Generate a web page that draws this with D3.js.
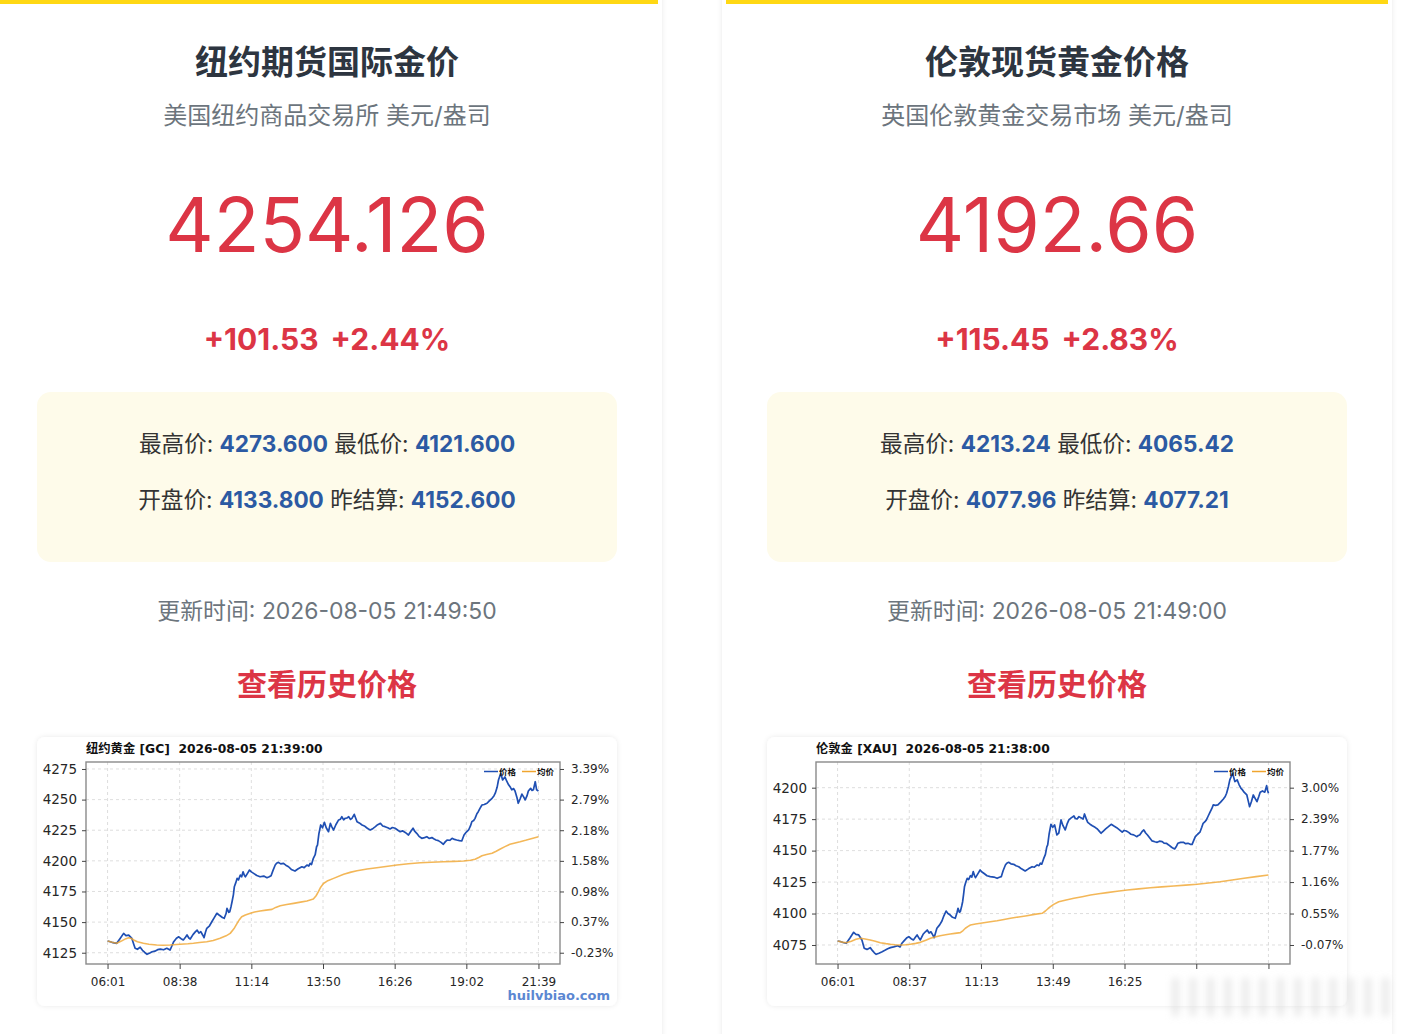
<!DOCTYPE html>
<html>
<head>
<meta charset="utf-8">
<script src="https://cdn.jsdelivr.net/npm/d3@7"></script>
<style>
html, body { margin: 0; padding: 0; background: #ffffff; }
svg { display: block; }
</style>
</head>
<body>
<script>
// ---------- card texts ----------
var cardTitles    = ["纽约期货国际金价", "伦敦现货黄金价格"];
var cardSubtitles = ["美国纽约商品交易所 美元/盎司", "英国伦敦黄金交易市场 美元/盎司"];
var lastPrices    = ["4254.126", "4192.66"];
var changeValues  = ["+101.53", "+115.45"];
var changePcts    = ["+2.44%", "+2.83%"];
var highPrices    = ["4273.600", "4213.24"];
var lowPrices     = ["4121.600", "4065.42"];
var openPrices    = ["4133.800", "4077.96"];
var settlePrices  = ["4152.600", "4077.21"];
var updateTimes   = ["2026-08-05 21:49:50", "2026-08-05 21:49:00"];
var chartTitles   = ["纽约黄金 [GC]  2026-08-05 21:39:00", "伦敦金 [XAU]  2026-08-05 21:38:00"];

// ---------- chart axes ----------
var gcTimeLabels  = ["06:01", "08:38", "11:14", "13:50", "16:26", "19:02", "21:39"];
var xauTimeLabels = ["06:01", "08:37", "11:13", "13:49", "16:25", "19:01", "21:38"];
var xauTimeShown  = [true, true, true, true, true, false, false];   // last two covered in the picture
var gcPriceTicks  = [4125, 4150, 4175, 4200, 4225, 4250, 4275];
var gcPctLabels   = ["-0.23%", "0.37%", "0.98%", "1.58%", "2.18%", "2.79%", "3.39%"];
var xauPriceTicks = [4075, 4100, 4125, 4150, 4175, 4200];
var xauPctLabels  = ["-0.07%", "0.55%", "1.16%", "1.77%", "2.39%", "3.00%"];

// ---------- GC series (minutes after 06:01) ----------
var gcTimes = [0,6,12,20,27,35,40,46,53,57,60,65,71,76,81,86,92,97,103,109,115,122,129,136,140,144,150,155,160,165,170,173,177,180,186,191,195,199,203,207,210,213,216,222,227,232,238,242,245,250,254,258,260,264,266,269,271,274,276,279,282,285,289,292,295,298,300,305,309,313,318,325,332,340,347,352,356,360,365,368,372,377,383,388,394,400,408,415,423,428,434,438,441,444,448,452,455,457,460,464,468,472,476,481,485,488,492,497,503,507,510,514,517,521,525,529,532,537,540,543,548,554,559,564,568,572,578,583,588,594,599,604,610,615,620,626,632,637,642,648,652,655,660,665,669,673,678,684,690,695,700,706,710,715,720,726,731,735,739,745,750,755,760,766,771,776,781,786,790,793,797,800,804,807,811,815,820,826,831,837,841,844,848,851,856,860,865,869,873,877,880,884,887,891,894,898,902,906,909,913,916,921,924,927,931,934,938];
var gcPrices = [4134.6,4134.0,4133.2,4132.7,4136.5,4140.8,4139.0,4139.4,4136.7,4132.0,4128.6,4127.8,4129.5,4127.0,4125.2,4123.7,4124.8,4125.8,4126.3,4127.5,4128.0,4127.4,4128.6,4127.2,4130.5,4134.0,4136.8,4138.0,4136.5,4135.4,4137.8,4139.5,4137.0,4136.2,4139.8,4142.0,4143.5,4141.0,4142.2,4139.5,4137.3,4141.5,4144.9,4147.0,4150.3,4153.5,4157.2,4156.0,4155.2,4153.8,4153.1,4157.0,4161.2,4158.0,4158.5,4163.0,4166.6,4172.5,4178.9,4182.0,4185.7,4184.5,4188.4,4187.0,4191.1,4188.0,4187.0,4190.0,4192.5,4191.0,4189.8,4188.0,4187.0,4187.6,4186.2,4187.0,4187.9,4192.0,4196.6,4198.0,4198.8,4197.5,4198.0,4196.5,4195.2,4193.0,4191.7,4193.5,4195.2,4194.5,4196.6,4195.8,4198.0,4197.0,4202.1,4205.0,4211.5,4212.9,4222.0,4229.3,4227.0,4231.5,4227.0,4223.8,4230.6,4228.0,4225.2,4229.5,4233.4,4234.0,4236.0,4233.5,4234.7,4235.0,4236.0,4233.8,4234.7,4238.0,4235.0,4232.0,4231.0,4229.3,4228.5,4227.0,4226.0,4225.2,4226.5,4227.9,4229.5,4230.6,4228.5,4227.9,4227.0,4226.0,4227.2,4226.6,4225.0,4223.8,4224.5,4223.2,4222.0,4221.1,4224.0,4226.6,4224.0,4222.5,4220.0,4218.4,4219.0,4219.7,4218.3,4219.0,4218.0,4217.0,4216.5,4215.1,4213.5,4215.5,4217.0,4216.8,4218.4,4217.5,4217.0,4216.5,4216.2,4221.1,4223.5,4225.2,4228.5,4232.0,4233.0,4234.7,4238.5,4240.1,4243.0,4245.6,4246.0,4247.0,4249.0,4251.1,4253.0,4255.2,4260.0,4266.0,4271.5,4266.0,4268.5,4265.0,4262.1,4260.0,4258.0,4259.0,4257.0,4252.0,4247.0,4250.5,4254.5,4252.0,4249.7,4253.0,4257.0,4259.2,4257.5,4258.0,4264.6,4258.0,4257.0];
var gcAvgTimes = [0,10,20,30,40,46,52,57,65,78,90,107,120,136,158,175,187,200,216,230,245,258,267,275,282,287,292,300,311,320,332,345,358,366,376,390,405,420,434,448,454,459,464,470,478,492,514,530,543,565,586,610,630,655,681,705,731,755,775,790,800,808,815,825,837,846,855,865,876,887,898,910,920,930,938];
var gcAvgPrices = [4134.6,4133.5,4132.7,4134.5,4136.5,4137.2,4136.6,4135.4,4134.0,4132.7,4131.9,4131.3,4131.1,4131.3,4131.9,4132.3,4132.7,4133.3,4134.0,4135.0,4136.8,4138.8,4140.8,4144.5,4149.0,4152.0,4154.4,4155.8,4157.2,4158.2,4159.0,4159.8,4160.4,4162.0,4163.4,4164.4,4165.3,4166.3,4167.2,4168.8,4171.5,4174.8,4178.5,4181.5,4183.5,4185.7,4189.0,4190.8,4191.9,4193.3,4194.4,4195.6,4196.6,4197.6,4198.5,4198.9,4199.3,4199.6,4199.9,4200.5,4201.3,4202.8,4204.2,4205.2,4206.2,4207.8,4209.7,4211.6,4213.5,4214.6,4215.6,4216.8,4217.9,4218.9,4219.7];

// ---------- XAU series (minutes after 06:01) ----------
var xauTimes = [0,6,12,19,27,35,40,46,53,58,64,71,76,80,84,90,97,103,109,115,122,131,136,140,145,150,155,160,165,170,173,177,180,186,191,195,199,203,207,210,213,216,222,227,231,236,240,245,250,256,260,262,265,267,270,272,274,276,279,282,285,289,292,295,298,300,305,310,314,318,325,332,340,347,352,356,360,365,368,372,377,383,388,394,400,408,415,423,428,434,438,441,444,448,452,455,457,460,464,468,472,477,481,486,490,495,499,503,508,514,517,521,525,530,534,537,541,544,549,554,560,565,569,573,578,583,589,595,601,607,613,619,623,628,633,638,644,651,654,657,662,666,670,674,679,684,690,695,700,706,710,715,720,725,729,733,737,740,746,752,757,762,767,771,775,778,783,788,792,795,799,802,806,810,814,817,822,827,833,839,843,846,850,853,859,864,869,873,877,881,884,890,893,896,900,904,908,912,916,919,924,929,933,935,937];
var xauPrices = [4078.2,4077.8,4077.0,4076.4,4080.5,4085.1,4083.5,4083.0,4079.0,4072.4,4071.5,4072.9,4070.5,4068.8,4067.6,4068.5,4069.7,4070.8,4072.0,4072.9,4073.5,4074.4,4073.5,4076.4,4078.5,4080.5,4081.6,4080.0,4079.0,4081.5,4083.0,4080.5,4079.0,4083.5,4085.5,4086.9,4084.5,4085.5,4083.0,4080.8,4084.5,4088.3,4091.0,4094.1,4098.0,4102.0,4100.0,4098.8,4097.0,4096.2,4101.0,4104.2,4101.0,4101.5,4106.0,4109.4,4115.0,4121.3,4125.0,4128.0,4127.0,4130.1,4129.0,4133.3,4130.0,4128.5,4131.5,4134.6,4133.0,4132.0,4130.0,4129.3,4129.0,4128.0,4128.8,4129.3,4134.0,4138.6,4140.0,4140.7,4139.5,4139.1,4138.0,4137.2,4135.5,4133.8,4135.5,4137.2,4136.8,4138.6,4138.0,4140.0,4139.2,4143.4,4147.0,4153.0,4154.5,4163.0,4170.9,4168.5,4170.4,4162.4,4163.8,4174.4,4170.0,4166.4,4171.0,4174.4,4176.0,4177.5,4175.5,4175.2,4177.0,4176.0,4175.0,4179.1,4175.0,4172.5,4171.0,4169.8,4168.5,4167.2,4165.5,4163.8,4165.5,4167.2,4169.0,4170.9,4169.5,4168.2,4166.5,4164.6,4166.0,4165.6,4164.5,4163.0,4162.5,4161.1,4162.0,4162.4,4165.0,4166.4,4164.0,4162.4,4160.0,4157.7,4157.0,4156.6,4157.5,4157.2,4156.0,4155.8,4154.5,4153.1,4152.0,4151.3,4153.5,4155.8,4156.5,4156.6,4155.5,4155.8,4155.0,4155.0,4158.5,4161.1,4163.0,4164.6,4168.5,4171.7,4173.0,4174.4,4177.5,4180.5,4183.5,4186.3,4186.0,4186.3,4188.5,4191.0,4193.0,4195.6,4201.0,4206.2,4211.5,4204.8,4206.2,4202.5,4199.6,4198.0,4196.4,4194.2,4189.5,4184.9,4189.0,4194.2,4191.5,4188.9,4193.0,4196.4,4197.4,4196.4,4201.6,4198.0,4195.6];
var xauAvgTimes = [0,10,19,30,40,50,60,71,82,93,105,115,125,136,148,158,170,180,192,202,212,223,235,245,255,267,273,278,284,289,300,318,332,347,362,376,394,412,428,445,452,458,463,470,481,497,514,532,550,568,586,608,630,655,680,705,731,757,782,807,832,858,884,910,937];
var xauAvgPrices = [4078.2,4077.3,4076.8,4078.0,4079.5,4080.3,4079.8,4079.0,4077.9,4076.8,4076.1,4075.6,4075.2,4075.0,4075.2,4075.6,4076.3,4077.1,4078.8,4080.3,4081.4,4082.4,4083.1,4083.7,4084.2,4084.8,4086.5,4088.3,4089.8,4090.9,4091.7,4092.7,4093.5,4094.3,4095.3,4096.2,4097.3,4098.3,4099.3,4100.2,4102.0,4104.0,4105.4,4107.3,4109.4,4110.8,4112.1,4113.4,4114.7,4115.7,4116.6,4117.7,4118.7,4119.6,4120.5,4121.2,4121.9,4122.6,4123.3,4124.3,4125.3,4126.6,4128.0,4129.3,4130.6];

var W = 1406, H = 1034;
var LATIN = "Inter, 'Noto Sans CJK SC', sans-serif";
var MPL = "'DejaVu Sans', 'Noto Sans CJK SC', sans-serif";
var RED = "#dc3545", BLUE_NUM = "#2c5aa3";
var PRICE_BLUE = "#1f4fb3", AVG_ORANGE = "#f0a52e";

var svg = d3.select("body").append("svg")
	.attr("width", W)
	.attr("height", H);

var defs = svg.append("defs");
var shadow = defs.append("filter").attr("id", "shadow")
	.attr("x", "-10%").attr("y", "-10%").attr("width", "120%").attr("height", "120%");
shadow.append("feDropShadow").attr("dx", 0).attr("dy", 0)
	.attr("stdDeviation", 2.5).attr("flood-color", "#000").attr("flood-opacity", 0.09);
var blur = defs.append("filter").attr("id", "blur")
	.attr("x", "-50%").attr("y", "-50%").attr("width", "200%").attr("height", "200%");
blur.append("feGaussianBlur").attr("stdDeviation", 3.5);

function toMin(s){
	var p = s.split(":");
	return (+p[0]) * 60 + (+p[1]) - 361;
}

var cardLeft = [-8, 722];

var drawCard = function(i){
	var x0 = cardLeft[i];
	var cx = x0 + 335;
	var g = svg.append("g");

	g.append("rect")
		.attr("x", x0).attr("y", -10)
		.attr("width", 670).attr("height", H + 20)
		.attr("rx", 8)
		.attr("fill", "#ffffff")
		.attr("filter", "url(#shadow)");

	g.append("rect")
		.attr("x", x0 + 4).attr("y", 0)
		.attr("width", 662).attr("height", 4)
		.attr("fill", "#ffd814");

	g.append("text")
		.attr("x", cx).attr("y", 73.5)
		.attr("text-anchor", "middle")
		.style("font-family", LATIN).style("font-size", "33px").style("font-weight", 700)
		.attr("fill", "#2d3540")
		.text(cardTitles[i]);

	g.append("text")
		.attr("x", cx).attr("y", 124)
		.attr("text-anchor", "middle")
		.style("font-family", LATIN).style("font-size", "24px")
		.attr("fill", "#6c757d")
		.text(cardSubtitles[i]);

	g.append("text")
		.attr("x", cx).attr("y", 252)
		.attr("text-anchor", "middle")
		.style("font-family", LATIN).style("font-size", "75px")
		.attr("fill", RED)
		.text(lastPrices[i]);

	var ch = g.append("text")
		.attr("x", cx).attr("y", 350)
		.attr("text-anchor", "middle")
		.style("font-family", LATIN).style("font-size", "30px").style("font-weight", 700)
		.attr("fill", RED);
	ch.append("tspan").text(changeValues[i]);
	ch.append("tspan").attr("dx", 12).text(changePcts[i]);

	g.append("rect")
		.attr("x", cx - 290).attr("y", 392)
		.attr("width", 580).attr("height", 170)
		.attr("rx", 14)
		.attr("fill", "#fefbea");

	var rows = [
		[["最高价: ", highPrices[i]], ["最低价: ", lowPrices[i]]],
		[["开盘价: ", openPrices[i]], ["昨结算: ", settlePrices[i]]]
	];
	rows.forEach(function(row, r){
		var t = g.append("text")
			.attr("x", cx).attr("y", 452 + r * 56)
			.attr("text-anchor", "middle")
			.style("font-family", LATIN).style("font-size", "22.6px");
		row.forEach(function(pair, k){
			t.append("tspan").attr("fill", "#333333").text((k ? " " : "") + pair[0]);
			t.append("tspan").attr("fill", BLUE_NUM).style("font-weight", 700).text(pair[1]);
		});
	});

	g.append("text")
		.attr("x", cx).attr("y", 619)
		.attr("text-anchor", "middle")
		.style("font-family", LATIN).style("font-size", "22.9px")
		.attr("fill", "#6c757d")
		.text("更新时间: " + updateTimes[i]);

	g.append("text")
		.attr("x", cx).attr("y", 695)
		.attr("text-anchor", "middle")
		.style("font-family", LATIN).style("font-size", "30px").style("font-weight", 700)
		.attr("fill", RED)
		.text("查看历史价格");

	g.append("rect")
		.attr("x", cx - 290).attr("y", 737)
		.attr("width", 580).attr("height", 269)
		.attr("rx", 8)
		.attr("fill", "#ffffff")
		.attr("filter", "url(#shadow)");

	return {g: g, cx: cx};
};

var drawChart = function(card, cfg){
	var g = card.g, cx = card.cx;
	var left = cx - 241, right = cx + 233, top = 762, bottom = 964;

	var x = d3.scaleLinear().domain(cfg.xDomain).range([left, right]);
	var y = d3.scaleLinear().domain(cfg.yDomain).range([bottom, top]);
	var tickMins = cfg.timeLabels.map(toMin);

	// grid
	g.append("g").selectAll("line").data(cfg.priceTicks).enter().append("line")
		.attr("x1", left).attr("x2", right)
		.attr("y1", function(d){ return y(d); }).attr("y2", function(d){ return y(d); })
		.attr("stroke", "#d6d6d6").attr("stroke-width", 0.8).attr("stroke-dasharray", "3,3");
	g.append("g").selectAll("line").data(tickMins).enter().append("line")
		.attr("y1", top).attr("y2", bottom)
		.attr("x1", function(d){ return x(d); }).attr("x2", function(d){ return x(d); })
		.attr("stroke", "#d6d6d6").attr("stroke-width", 0.8).attr("stroke-dasharray", "3,3");

	var line = d3.line()
		.x(function(d){ return x(d[0]); })
		.y(function(d){ return y(d[1]); });

	g.append("path")
		.datum(d3.zip(cfg.times, cfg.prices))
		.attr("d", line)
		.attr("fill", "none")
		.attr("stroke", PRICE_BLUE)
		.attr("stroke-width", 1.7)
		.attr("stroke-linejoin", "round");

	g.append("path")
		.datum(d3.zip(cfg.avgTimes, cfg.avgPrices))
		.attr("d", line)
		.attr("fill", "none")
		.attr("stroke", AVG_ORANGE)
		.attr("stroke-opacity", 0.8)
		.attr("stroke-width", 1.6)
		.attr("stroke-linejoin", "round");

	// frame
	g.append("rect")
		.attr("x", left).attr("y", top)
		.attr("width", right - left).attr("height", bottom - top)
		.attr("fill", "none")
		.attr("stroke", "#8a8a8a")
		.attr("stroke-width", 1.4);

	var styleAxis = function(a, size){
		a.select(".domain").remove();
		a.selectAll(".tick line").attr("stroke", "#444").attr("stroke-width", 1);
		a.selectAll(".tick text")
			.style("font-family", MPL).style("font-size", size)
			.attr("fill", "#262626");
	};

	g.append("g")
		.attr("transform", "translate(" + left + ",0)")
		.call(d3.axisLeft(y).tickValues(cfg.priceTicks).tickSize(4).tickPadding(5).tickFormat(d3.format("d")))
		.call(styleAxis, "13.5px");

	g.append("g")
		.attr("transform", "translate(" + right + ",0)")
		.call(d3.axisRight(y).tickValues(cfg.priceTicks).tickSize(4).tickPadding(7)
			.tickFormat(function(d, k){ return cfg.pctLabels[k]; }))
		.call(styleAxis, "12px");

	g.append("g")
		.attr("transform", "translate(0," + bottom + ")")
		.call(d3.axisBottom(x).tickValues(tickMins).tickSize(5).tickPadding(8)
			.tickFormat(function(d, k){ return cfg.timeShown[k] ? cfg.timeLabels[k] : ""; }))
		.call(styleAxis, "12px");

	g.append("text")
		.attr("x", left).attr("y", 753)
		.style("font-family", MPL).style("font-size", "12.3px").style("font-weight", 700)
		.style("white-space", "pre")
		.attr("fill", "#111")
		.text(cfg.title);

	// legend
	var lg = g.append("g").style("font-family", MPL).style("font-size", "8.5px").style("font-weight", 700);
	[["价格", PRICE_BLUE, 76], ["均价", AVG_ORANGE, 38]].forEach(function(it){
		lg.append("line")
			.attr("x1", right - it[2]).attr("x2", right - it[2] + 14)
			.attr("y1", top + 9.5).attr("y2", top + 9.5)
			.attr("stroke", it[1]).attr("stroke-width", 1.5);
		lg.append("text")
			.attr("x", right - it[2] + 15).attr("y", top + 12.5)
			.attr("fill", "#111")
			.text(it[0]);
	});
};

var c0 = drawCard(0);
drawChart(c0, {
	title: chartTitles[0],
	xDomain: [-46.9, 984.9], yDomain: [4115.8, 4280.7],
	timeLabels: gcTimeLabels, timeShown: gcTimeLabels.map(function(){ return true; }),
	priceTicks: gcPriceTicks, pctLabels: gcPctLabels,
	times: gcTimes, prices: gcPrices, avgTimes: gcAvgTimes, avgPrices: gcAvgPrices
});
c0.g.append("text")
	.attr("x", c0.cx + 283).attr("y", 1000)
	.attr("text-anchor", "end")
	.style("font-family", MPL).style("font-size", "13px").style("font-weight", 700)
	.attr("fill", "#5b87d2")
	.text("huilvbiao.com");

var c1 = drawCard(1);
drawChart(c1, {
	title: chartTitles[1],
	xDomain: [-46.85, 983.85], yDomain: [4059.9, 4220.4],
	timeLabels: xauTimeLabels, timeShown: xauTimeShown,
	priceTicks: xauPriceTicks, pctLabels: xauPctLabels,
	times: xauTimes, prices: xauPrices, avgTimes: xauAvgTimes, avgPrices: xauAvgPrices
});

// blurred overlay stripes at the bottom right of the picture
svg.append("g").attr("filter", "url(#blur)")
	.selectAll("rect").data(d3.range(13)).enter().append("rect")
	.attr("x", function(d){ return 1172 + d * 17.5; })
	.attr("y", 978)
	.attr("width", 7)
	.attr("height", 38)
	.attr("fill", "#d4d4d4")
	.attr("opacity", 0.5);
</script>
</body>
</html>
